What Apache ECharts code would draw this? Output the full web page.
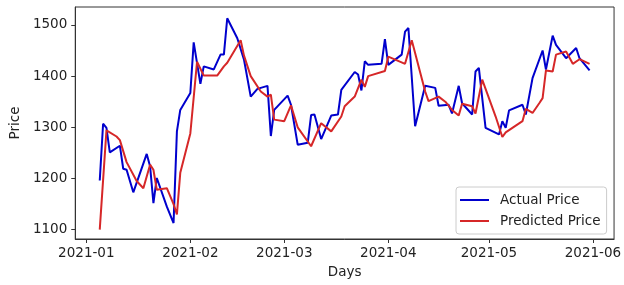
<!DOCTYPE html>
<html>
<head>
<meta charset="utf-8">
<script src="https://cdn.jsdelivr.net/npm/echarts@6/dist/echarts.min.js"></script>
<style>
  html, body { margin: 0; padding: 0; background: #fff; }
  #chart { width: 624px; height: 285px; }
</style>
</head>
<body>
<div id="chart"></div>
<script>
// 数据：实际价格与预测价格
var actualDates = [
  "2021-01-05", "2021-01-06", "2021-01-07", "2021-01-08", "2021-01-11", "2021-01-12", "2021-01-13", "2021-01-15",
  "2021-01-19", "2021-01-20", "2021-01-21", "2021-01-22", "2021-01-25", "2021-01-27", "2021-01-28", "2021-01-29",
  "2021-02-01", "2021-02-02", "2021-02-04", "2021-02-05", "2021-02-08", "2021-02-10", "2021-02-11", "2021-02-12",
  "2021-02-15", "2021-02-17", "2021-02-19", "2021-02-21", "2021-02-24", "2021-02-25", "2021-02-26",
  "2021-03-02", "2021-03-03", "2021-03-05", "2021-03-08", "2021-03-09", "2021-03-10", "2021-03-12", "2021-03-15",
  "2021-03-17", "2021-03-18", "2021-03-22", "2021-03-23", "2021-03-24", "2021-03-25", "2021-03-26", "2021-03-30",
  "2021-03-31", "2021-04-01", "2021-04-05", "2021-04-06", "2021-04-07", "2021-04-09", "2021-04-12", "2021-04-15",
  "2021-04-16", "2021-04-19", "2021-04-20", "2021-04-22", "2021-04-23", "2021-04-26", "2021-04-27", "2021-04-28",
  "2021-04-30", "2021-05-04", "2021-05-05", "2021-05-06", "2021-05-07", "2021-05-11", "2021-05-12", "2021-05-14",
  "2021-05-17", "2021-05-18", "2021-05-20", "2021-05-21", "2021-05-24", "2021-05-27", "2021-05-28", "2021-05-31"
];
var actualValues = [
  1196, 1307, 1299, 1251, 1264, 1219, 1217, 1173,
  1248, 1224, 1152, 1201, 1145, 1113, 1292, 1334,
  1367, 1466, 1385, 1419, 1413, 1442, 1442, 1513,
  1474, 1432, 1360, 1375, 1381, 1283, 1334,
  1362, 1344, 1266, 1270, 1324, 1325, 1277, 1323,
  1325, 1373, 1408, 1403, 1372, 1429, 1422, 1424,
  1472, 1422, 1442, 1487, 1494, 1302, 1381, 1377,
  1342, 1344, 1327, 1381, 1347, 1325, 1409, 1416,
  1299, 1286, 1312, 1299, 1333, 1344, 1325, 1396,
  1450, 1413, 1479, 1461, 1435, 1455, 1435, 1411
];

var predictedDates = [
  "2021-01-05", "2021-01-07", "2021-01-10", "2021-01-11", "2021-01-13", "2021-01-16", "2021-01-18", "2021-01-20",
  "2021-01-21", "2021-01-22", "2021-01-25", "2021-01-27", "2021-01-28", "2021-01-29",
  "2021-02-01", "2021-02-03", "2021-02-05", "2021-02-09", "2021-02-11", "2021-02-12", "2021-02-16", "2021-02-17",
  "2021-02-19", "2021-02-22", "2021-02-24", "2021-02-25", "2021-02-26",
  "2021-03-01", "2021-03-03", "2021-03-05", "2021-03-09", "2021-03-12", "2021-03-15", "2021-03-18", "2021-03-19",
  "2021-03-22", "2021-03-24", "2021-03-25", "2021-03-26", "2021-03-31",
  "2021-04-01", "2021-04-06", "2021-04-08", "2021-04-12", "2021-04-13", "2021-04-16", "2021-04-18", "2021-04-20",
  "2021-04-22", "2021-04-23", "2021-04-26", "2021-04-27", "2021-04-29",
  "2021-05-03", "2021-05-05", "2021-05-06", "2021-05-08", "2021-05-11", "2021-05-12", "2021-05-14", "2021-05-16",
  "2021-05-17", "2021-05-18", "2021-05-20", "2021-05-21", "2021-05-24", "2021-05-26", "2021-05-28", "2021-05-31"
];
var predictedValues = [
  1100, 1294, 1282, 1275, 1232, 1195, 1181, 1227,
  1217, 1178, 1181, 1150, 1130, 1211,
  1288, 1428, 1401, 1401, 1419, 1426, 1470, 1440,
  1400, 1370, 1360, 1364, 1315,
  1312, 1343, 1300, 1263, 1308, 1292, 1321, 1341,
  1360, 1393, 1379, 1400, 1410,
  1438, 1424, 1470, 1370, 1351, 1360, 1350, 1334,
  1323, 1346, 1341, 1327, 1393,
  1321, 1281, 1290, 1299, 1312, 1336, 1328, 1347,
  1357, 1411, 1409, 1442, 1448, 1424, 1433, 1424
];

var yTicks = [1100, 1200, 1300, 1400, 1500];
var monthTicks = ["2021-01-01", "2021-02-01", "2021-03-01", "2021-04-01", "2021-05-01", "2021-06-01"];

function ts(s) {
  var p = s.split("-");
  return Date.UTC(+p[0], +p[1] - 1, +p[2]);
}
function pad(n) { return n < 10 ? "0" + n : "" + n; }

var DAY = 86400000;
var xMin = ts("2021-01-05") - 7.3 * DAY;
var xMax = ts("2021-05-31") + 7.3 * DAY;
var monthValues = monthTicks.map(ts);

var fontFamily = "DejaVu Sans";

var myChart = echarts.init(document.getElementById("chart"));

var option = {
  animation: false,
  backgroundColor: "#fff",
  grid: {
    left: 72,
    right: 8,
    top: 7,
    bottom: 46,
    show: true,
    borderColor: "#333",
    borderWidth: 1
  },
  legend: {
    orient: "vertical",
    left: 456,
    top: 187,
    padding: [5, 6, 5, 4],
    itemGap: 5,
    itemWidth: 29,
    itemHeight: 2,
    icon: "rect",
    backgroundColor: "rgba(255,255,255,0.8)",
    borderColor: "#ccc",
    borderWidth: 1,
    borderRadius: 3,
    textStyle: {
      fontFamily: fontFamily,
      fontSize: 13.5,
      color: "#222",
      lineHeight: 16,
      padding: [0, 0, 0, 6]
    },
    data: ["Actual Price", "Predicted Price"]
  },
  xAxis: {
    type: "value",
    min: xMin,
    max: xMax,
    name: "Days",
    nameLocation: "middle",
    nameGap: 26,
    nameTextStyle: { fontFamily: fontFamily, fontSize: 13.5, color: "#222" },
    axisLine: { show: true, lineStyle: { color: "#333", width: 1 } },
    axisTick: { show: true, inside: false, length: 4, lineStyle: { color: "#333" }, customValues: monthValues },
    axisLabel: {
      fontFamily: fontFamily,
      fontSize: 13.5,
      color: "#222",
      margin: 7,
      customValues: monthValues,
      formatter: function (v) {
        var d = new Date(v);
        return d.getUTCFullYear() + "-" + pad(d.getUTCMonth() + 1);
      }
    },
    splitLine: { show: false }
  },
  yAxis: {
    type: "value",
    min: 1081.8,
    max: 1535,
    name: "Price",
    nameLocation: "middle",
    nameGap: 50,
    nameTextStyle: { fontFamily: fontFamily, fontSize: 13.5, color: "#222" },
    axisLine: { show: true, lineStyle: { color: "#333", width: 1 } },
    axisTick: { show: true, inside: false, length: 4, lineStyle: { color: "#333" }, customValues: yTicks },
    axisLabel: {
      fontFamily: fontFamily,
      fontSize: 13.5,
      color: "#222",
      margin: 8,
      customValues: yTicks,
      formatter: function (v) { return String(v); }
    },
    splitLine: { show: false }
  },
  series: [
    {
      name: "Actual Price",
      type: "line",
      symbol: "none",
      lineStyle: { color: "#0000cd", width: 2 },
      itemStyle: { color: "#0000cd" },
      data: actualDates.map(function (d, i) { return [ts(d), actualValues[i]]; })
    },
    {
      name: "Predicted Price",
      type: "line",
      symbol: "none",
      lineStyle: { color: "#d62728", width: 2 },
      itemStyle: { color: "#d62728" },
      data: predictedDates.map(function (d, i) { return [ts(d), predictedValues[i]]; })
    }
  ]
};

myChart.setOption(option);
</script>
</body>
</html>
